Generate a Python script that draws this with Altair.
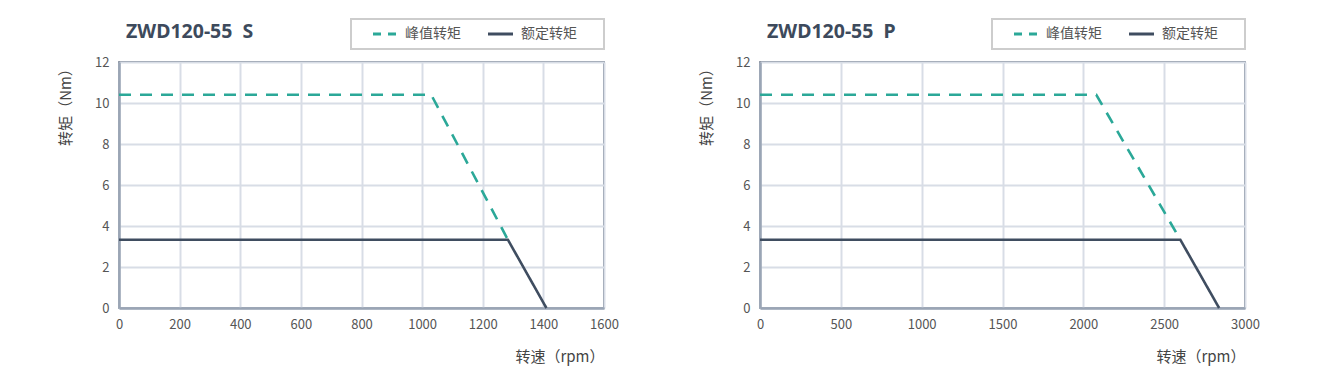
import altair as alt
import pandas as pd

# ---- data ----
SERIES = ["峰值转矩", "额定转矩"]

s_peak_speed = [0, 1030, 1283]
s_peak_torque = [10.4, 10.4, 3.33]
s_rated_speed = [0, 1283, 1410]
s_rated_torque = [3.33, 3.33, 0]

p_peak_speed = [0, 2080, 2600]
p_peak_torque = [10.4, 10.4, 3.33]
p_rated_speed = [0, 2600, 2840]
p_rated_torque = [3.33, 3.33, 0]

s_xticks = [0, 200, 400, 600, 800, 1000, 1200, 1400, 1600]
p_xticks = [0, 500, 1000, 1500, 2000, 2500, 3000]
yticks = [0, 2, 4, 6, 8, 10, 12]

TEAL = "#2ba898"
DARK = "#3f4d60"
FONT = "Noto Sans CJK SC"
W, H = 485, 246
ONE = alt.Data(values=[{}])


def make_df(ps, pt, rs, rt):
    rows = []
    for x, y in zip(ps, pt):
        rows.append({"series": SERIES[0], "speed": x, "torque": y})
    for x, y in zip(rs, rt):
        rows.append({"series": SERIES[1], "speed": x, "torque": y})
    return pd.DataFrame(rows)


def panel(title, df, xmax, xticks):
    lines = alt.Chart(df).mark_line(strokeWidth=2.6, clip=False).encode(
        x=alt.X("speed:Q",
                scale=alt.Scale(domain=[0, xmax], nice=False, zero=True),
                axis=alt.Axis(values=xticks, format="d", title="转速（rpm）",
                              titleAnchor="end", titlePadding=18)),
        y=alt.Y("torque:Q",
                scale=alt.Scale(domain=[0, 12], nice=False),
                axis=alt.Axis(values=yticks, format="d", title="转矩（Nm）",
                              titleX=-54, titleY=41, titleBaseline="middle",
                              titleAlign="center", titleAngle=270)),
        color=alt.Color("series:N",
                        scale=alt.Scale(domain=SERIES, range=[TEAL, DARK]),
                        legend=None),
        strokeDash=alt.StrokeDash("series:N",
                                  scale=alt.Scale(domain=SERIES, range=[[12, 9], [1, 0]]),
                                  legend=None),
        order=alt.Order("speed:Q"),
    )
    box = alt.Chart(ONE).mark_rect(
        filled=False, stroke="#cdcdcd", strokeWidth=2).encode(
        x=alt.value(232), x2=alt.value(485), y=alt.value(-43), y2=alt.value(-13))
    sym1 = alt.Chart(ONE).mark_rule(color=TEAL, strokeWidth=3, strokeDash=[8, 7]).encode(
        x=alt.value(254), x2=alt.value(278), y=alt.value(-28))
    sym2 = alt.Chart(ONE).mark_rule(color=DARK, strokeWidth=3).encode(
        x=alt.value(369), x2=alt.value(394), y=alt.value(-28))
    lab1 = alt.Chart(ONE).mark_text(align="left", baseline="middle", fontSize=14,
                                    font=FONT, color="#555555").encode(
        x=alt.value(286), y=alt.value(-28), text=alt.value(SERIES[0]))
    lab2 = alt.Chart(ONE).mark_text(align="left", baseline="middle", fontSize=14,
                                    font=FONT, color="#555555").encode(
        x=alt.value(402), y=alt.value(-28), text=alt.value(SERIES[1]))
    ttl = alt.Chart(ONE).mark_text(
        align="left", baseline="middle", fontSize=19.5, fontWeight="bold",
        font="Noto Sans", color="#3d4a5c").encode(
        x=alt.value(7), y=alt.value(-30), text=alt.value(title))
    return alt.layer(box, lines, sym1, sym2, lab1, lab2, ttl).properties(width=W, height=H)


left = panel("ZWD120-55\u00a0 S", make_df(s_peak_speed, s_peak_torque, s_rated_speed, s_rated_torque),
             1600, s_xticks)
right = panel("ZWD120-55\u00a0 P", make_df(p_peak_speed, p_peak_torque, p_rated_speed, p_rated_torque),
              3000, p_xticks)

chart = alt.hconcat(left, right, spacing=78).resolve_scale(
    x="independent"
).properties(
    padding={"left": 57, "top": 17, "right": 5, "bottom": 5}
).configure_view(
    stroke="#4b586d", strokeWidth=1.5
).configure_axis(
    grid=True, gridColor="#d8dde6", gridWidth=2,
    domain=True, domainColor="#9aa5b5", domainWidth=2.5,
    ticks=False, labelPadding=10, labelFontSize=13, labelFont=FONT,
    labelColor="#555555", labelFlush=False, labelOverlap=False,
    titleFont=FONT, titleFontSize=15, titleFontWeight="normal", titleColor="#444444",
)

chart.save("out.html", embed_options={"renderer": "svg", "actions": False})
